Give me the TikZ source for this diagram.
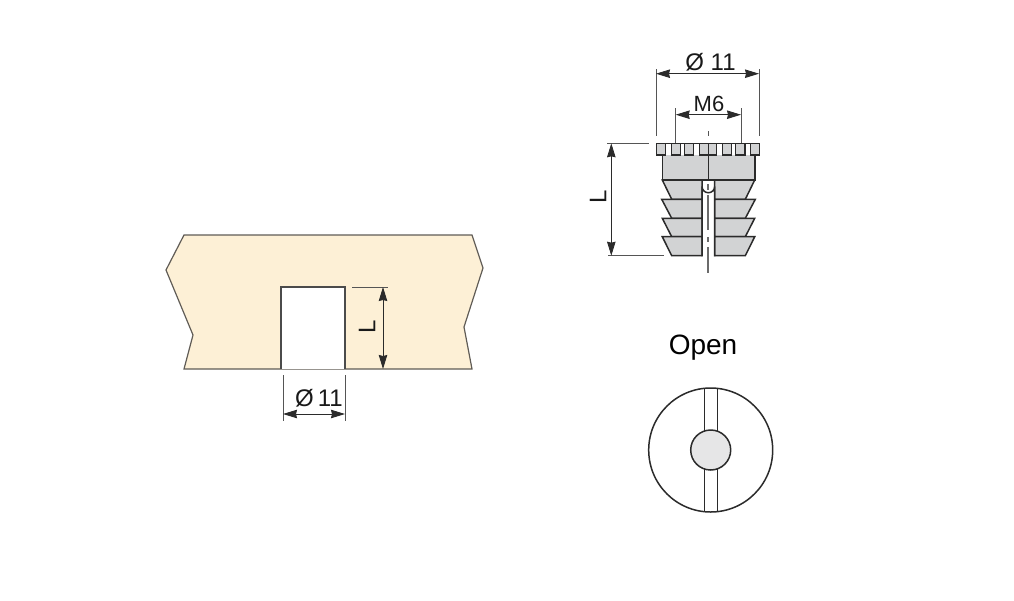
\documentclass[tikz,border=0pt]{standalone}
\usepackage{fontspec}
\setmainfont{Liberation Sans}
\usetikzlibrary{arrows.meta}
\definecolor{panelcream}{HTML}{FDF0D6}
\definecolor{partgray}{HTML}{D2D3D4}
\definecolor{capgray}{HTML}{E6E6E7}
\definecolor{inkdark}{HTML}{2B2B2B}
\tikzset{
	dimline/.style={draw=inkdark, line width=.9pt, {Stealth[length=14pt,width=8.5pt,inset=1pt]}-{Stealth[length=14pt,width=8.5pt,inset=1pt]}},
	extline/.style={draw=inkdark!80, line width=.9pt},
	partline/.style={draw=inkdark, line width=1.5pt, line join=miter},
	dimtext/.style={font=\fontsize{24}{24}\selectfont, text=black!90, inner sep=0pt}
}
\begin{document}
\begin{tikzpicture}[x=1pt, y=-1pt]
\useasboundingbox (0,0) rectangle (1014,600);
% panel with the bore
\draw[fill=panelcream, draw=inkdark!75!panelcream, line width=1.2pt] (184,235) -- (472,235) -- (483,268) -- (464,327) -- (472,369) -- (184,369) -- (193,335) -- (166,270) -- cycle;
\draw[draw=inkdark!85, line width=1.2pt, fill=white] (281,369) -- (281,287) -- (345,287) -- (345,369);
\coordinate (boreL) at (352,287); \coordinate (boreLend) at (388,287);
\coordinate (arrowLtop) at (383,287); \coordinate (arrowLbot) at (383,369);
\draw[extline] (boreL) -- (boreLend);
\draw[dimline] (arrowLtop) -- (arrowLbot);
\node[dimtext, rotate=90] (boreLtext) at (367,327) {L};
\coordinate (boreA) at (283,375); \coordinate (boreAend) at (283,421);
\coordinate (boreB) at (345,375); \coordinate (boreBend) at (345,421);
\draw[extline] (boreA) -- (boreAend);
\draw[extline] (boreB) -- (boreBend);
\coordinate (arrowA) at (283,414); \coordinate (arrowB) at (345,414);
\draw[dimline] (arrowA) -- (arrowB);
\node[dimtext] (boretext) at (319,398) {Ø\,11};

% insert, side view
\fill[partgray] (662.3,155) rectangle (755,180);
\draw[partline] (662.3,155) -- (662.3,180) -- (755,180) -- (755,155);
\foreach \a/\b in {656.7/665.7,671.7/680.7,684.7/693.7,699.7/716.3,722.7/731.7,735.7/745,750.7/759.3} {
	\draw[partline, fill=partgray] (\a,143.3) rectangle (\b,155);
}
\draw[partline] (656.7,143.3) -- (759.3,143.3);
\foreach \top/\bot/\ax/\bx in {180/199.3/662.3/671.7,199.3/218.3/661.7/671.7,218.3/236.7/662.3/671.7,236.7/255.7/662.3/671.7} {
	\draw[partline, fill=partgray] (\ax,\top) -- (\bx,\bot) -- (702,\bot) -- (702,\top) -- cycle;
	\draw[partline, fill=partgray] (1417-\ax,\top) -- (1417-\bx,\bot) -- (714.7,\bot) -- (714.7,\top) -- cycle;
}
\fill[white] (702,256.5) -- (702,186.4) arc[start angle=180, end angle=0, radius=6.35] -- (714.7,256.5) -- cycle;
\draw[partline] (702,256.4) -- (702,186.4) arc[start angle=180, end angle=0, radius=6.35] -- (714.7,256.4);
\draw[inkdark, line width=1pt] (708,143.3) -- (708,180);
\draw[inkdark!70, line width=1.2pt, dash pattern=on 6pt off 5pt on 35pt off 7pt on 5pt off 5pt on 26pt] (708,184) -- (708,273);
\coordinate (centertick) at (708,131); \coordinate (centertickend) at (708,136);
\draw[extline] (centertick) -- (centertickend);

% dimensions of the insert
\coordinate (diaA) at (656,69); \coordinate (diaAend) at (656,136);
\coordinate (diaB) at (759,69); \coordinate (diaBend) at (759,136);
\draw[extline] (diaA) -- (diaAend);
\draw[extline] (diaB) -- (diaBend);
\coordinate (arrowDa) at (656,73.7); \coordinate (arrowDb) at (759,73.7);
\draw[dimline] (arrowDa) -- (arrowDb);
\node[dimtext] (diatext) at (710.5,62) {Ø 11};
\coordinate (threadA) at (675.7,108); \coordinate (threadAend) at (675.7,143);
\coordinate (threadB) at (741,108); \coordinate (threadBend) at (741,143);
\draw[extline] (threadA) -- (threadAend);
\draw[extline] (threadB) -- (threadBend);
\coordinate (arrowMa) at (675.7,114.7); \coordinate (arrowMb) at (741,114.7);
\draw[dimline] (arrowMa) -- (arrowMb);
\node[dimtext, font=\fontsize{22}{22}\selectfont] (threadtext) at (709,104) {M6};
\coordinate (heightA) at (607,143.3); \coordinate (heightAend) at (649,143.3);
\coordinate (heightB) at (608,255.7); \coordinate (heightBend) at (664,255.7);
\draw[extline] (heightA) -- (heightAend);
\draw[extline] (heightB) -- (heightBend);
\coordinate (arrowHa) at (611.3,143.3); \coordinate (arrowHb) at (611.3,255.7);
\draw[dimline] (arrowHa) -- (arrowHb);
\node[dimtext, rotate=90] (heighttext) at (598,197) {L};

% insert, top view
\node[font=\fontsize{28}{28}\selectfont, text=black, inner sep=0pt] (opentext) at (703,347.5) {Open};
\draw[partline, fill=white] (710.7,450) circle[radius=62];
\draw[partline] (704.7,388.3) -- (704.7,511.7);
\draw[partline] (717.3,388.3) -- (717.3,511.7);
\draw[partline, fill=capgray] (710.7,450) circle[radius=20];
\end{tikzpicture}
\end{document}
